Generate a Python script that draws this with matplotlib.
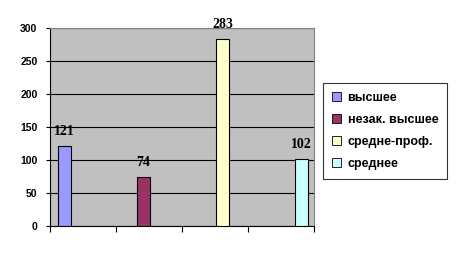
import numpy as np
import matplotlib.pyplot as plt
from matplotlib.patches import Patch

series = ["высшее", "незак. высшее", "средне-проф.", "среднее"]
values = [121, 74, 283, 102]
colors = ["#9999FF", "#993366", "#FFFFCC", "#CCFFFF"]
yticks = [0, 50, 100, 150, 200, 250, 300]

fig = plt.figure(figsize=(4.57, 2.56), dpi=100)
ax = fig.add_axes([50 / 457, 30 / 256, 264 / 457, 198 / 256])
ax.set_facecolor("#C0C0C0")

width = 0.197
idx = np.arange(len(values))
pos = idx + 0.12 + width * (idx + 0.5)
for p, v, c in zip(pos, values, colors):
    ax.bar(p, v, width=width, color=c, edgecolor="black", linewidth=0.8, zorder=3)
    ax.text(p, v + 12, str(v), ha="center", va="bottom", fontsize=10,
            fontweight="bold", family="Liberation Serif")

ax.set_xlim(0, 4)
ax.set_ylim(0, 300)
ax.set_yticks(yticks)
ax.set_yticklabels([str(t) for t in yticks], fontsize=7.5, fontweight="bold",
                   family="Liberation Sans")
ax.set_xticks(np.arange(5))
ax.set_xticklabels([])
ax.tick_params(axis="x", length=4, width=0.8, direction="out")
ax.tick_params(axis="y", length=3, width=0.8, direction="out", pad=6)
ax.yaxis.grid(True, color="black", linewidth=0.8, zorder=1)
ax.set_axisbelow(True)
for s in ["top", "right"]:
    ax.spines[s].set_color("#808080")
for s in ["left", "bottom"]:
    ax.spines[s].set_color("black")
    ax.spines[s].set_linewidth(0.8)

handles = [Patch(facecolor=c, edgecolor="black", linewidth=0.6) for c in colors]
leg = fig.legend(handles, series, loc="upper left",
                 bbox_to_anchor=(323 / 457, 1 - 83 / 256), borderaxespad=0,
                 frameon=True, fancybox=False, edgecolor="black",
                 prop={"weight": "bold", "size": 9, "family": "Liberation Sans"},
                 handlelength=0.72, handleheight=0.72, labelspacing=0.8,
                 borderpad=0.7, handletextpad=0.55)
leg.get_frame().set_linewidth(0.8)

fig.savefig("out.png", dpi=100)
